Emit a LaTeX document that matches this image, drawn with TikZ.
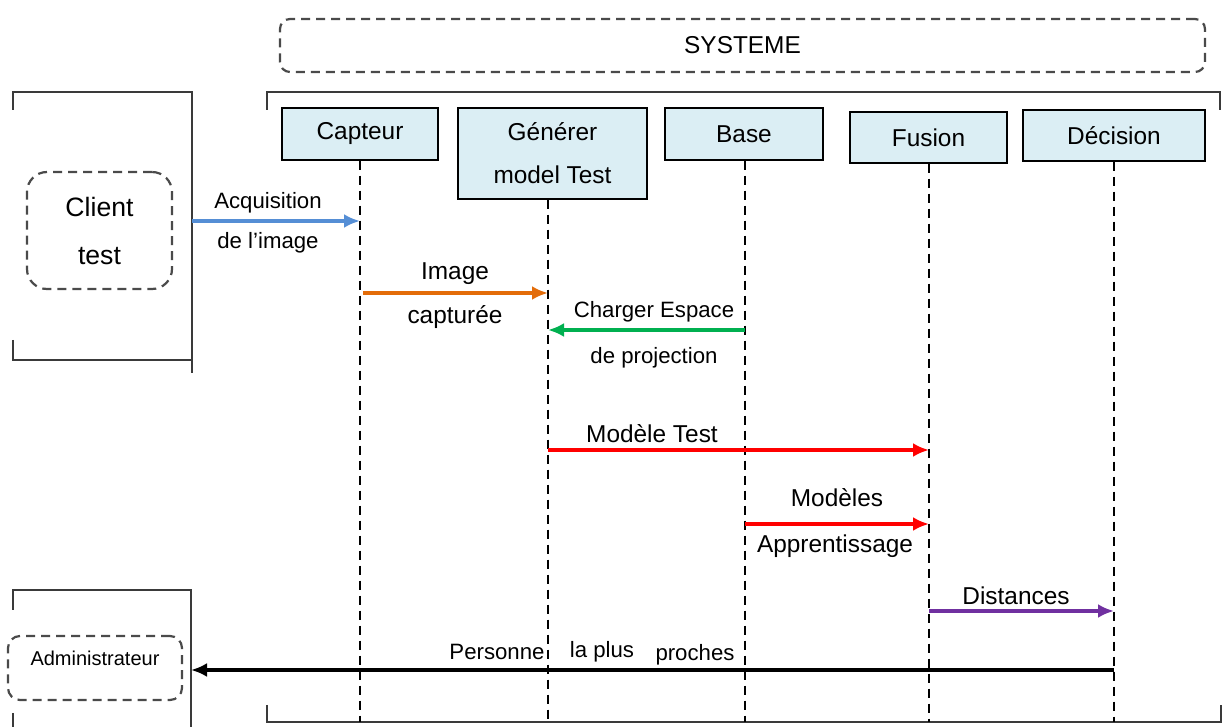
\documentclass[tikz,border=0pt]{standalone}
\usepackage{fontspec}
\setmainfont{Liberation Sans}
\usetikzlibrary{arrows.meta}
\definecolor{boxfill}{HTML}{DBEEF4}
\definecolor{frameg}{HTML}{3A3A3A}
\definecolor{dashg}{HTML}{4A4A4A}
\definecolor{cblue}{HTML}{558ED5}
\definecolor{corange}{HTML}{E36C09}
\definecolor{cgreen}{HTML}{00B050}
\definecolor{cred}{HTML}{FF0000}
\definecolor{cpurple}{HTML}{7030A0}
\tikzset{
  lifebox/.style={draw=black, fill=boxfill, line width=0.7pt, inner sep=0pt, align=center,
    font=\fontsize{12.2}{21.5}\selectfont},
  lifeline/.style={draw=black, line width=1pt, dash pattern=on 4.5pt off 3pt},
  framel/.style={draw=frameg, line width=0.9pt},
  actorbox/.style={draw=dashg, line width=1.1pt, dash pattern=on 4.5pt off 3pt, inner sep=0pt, align=center},
  lbl/.style={inner sep=0pt, text height=0.72em, text depth=0.2em, font=\fontsize{12.2}{14}\selectfont},
  slbl/.style={inner sep=0pt, text height=0.72em, text depth=0.2em, font=\fontsize{11.1}{13}\selectfont},
  msg/.style={line width=1.7pt, -{Latex[length=8pt,width=7pt]}},
}
\begin{document}
\begin{tikzpicture}[x=0.5pt,y=-0.5pt]
\useasboundingbox (0,0) rectangle (1223,727);
% SYSTEME
\node[actorbox, rounded corners=5pt, minimum width=462.5pt, minimum height=26.5pt,
  font=\fontsize{12.2}{14}\selectfont] (sys) at (742.5,45.5) {SYSTEME};
% system frame brackets
\draw[framel] (267,110) -- (267,92) -- (1220,92) -- (1220,110);
\draw[framel] (267,705) -- (267,722) -- (1221,722) -- (1221,705);
% client frame
\draw[framel] (13,110) -- (13,92) -- (192,92) -- (192,373);
\draw[framel] (13,340) -- (13,360) -- (192,360);
\node[actorbox, rounded corners=10pt, minimum width=72.5pt, minimum height=58.5pt,
  font=\fontsize{13.3}{24}\selectfont] (client) at (99.5,230.5) {Client\\test};
% admin frame
\draw[framel] (13,610) -- (13,590) -- (191,590) -- (191,727);
\draw[framel] (13,713) -- (13,727);
\node[actorbox, rounded corners=6pt, minimum width=87pt, minimum height=32pt,
  text height=0.72em, text depth=1.0em,
  font=\fontsize{10}{12}\selectfont] (admin) at (95,668) {Administrateur};
% lifeline boxes
\node[lifebox, minimum width=78pt, minimum height=26pt] (cap) at (360,134) {\raisebox{-1pt}{Capteur}};
\node[lifebox, minimum width=94.5pt, minimum height=45.5pt] (gen) at (552.5,153.5) {\raisebox{-1pt}{Générer}\\\raisebox{-1pt}{model Test}};
\node[lifebox, minimum width=79pt, minimum height=26pt] (base) at (744,134) {\raisebox{-1pt}{Base}};
\node[lifebox, minimum width=78.5pt, minimum height=25.5pt] (fus) at (928.5,137.5) {\raisebox{-1pt}{Fusion}};
\node[lifebox, minimum width=91pt, minimum height=25.5pt] (dec) at (1114,135.5) {\raisebox{-1pt}{Décision}};
% lifeline ends
\coordinate (capE) at (360,722);
\coordinate (genE) at (548,722);
\coordinate (baseE) at (745,722);
\coordinate (fusE) at (929,722);
\coordinate (decE) at (1114,722);
\draw[lifeline] (cap.south) -- (capE);
\draw[lifeline] (gen.south -| genE) -- (genE);
\draw[lifeline] (base.south -| baseE) -- (baseE);
\draw[lifeline] (fus.south -| fusE) -- (fusE);
\draw[lifeline] (dec.south) -- (decE);
% message anchor points
\coordinate (m1a) at (192,221);  \coordinate (m1b) at (360,221);
\coordinate (m2a) at (363,293);  \coordinate (m2b) at (548,293);
\coordinate (m3a) at (745,330);  \coordinate (m3b) at (548,330);
\coordinate (m4a) at (548,450);  \coordinate (m4b) at (929,450);
\coordinate (m5a) at (745,524);  \coordinate (m5b) at (929,524);
\coordinate (m6a) at (929,611);  \coordinate (m6b) at (1114,611);
\coordinate (m7a) at (1114,670); \coordinate (m7b) at (191,670);
% messages
\draw[msg, cblue] (m1a) -- (m1b);
\draw[msg, corange] (m2a) -- (m2b);
\draw[msg, cgreen] (m3a) -- (m3b);
\draw[msg, cred] (m4a) -- (m4b);
\draw[msg, cred] (m5a) -- (m5b);
\draw[msg, cpurple] (m6a) -- (m6b);
\draw[line width=2pt, black, -{Latex[length=8pt,width=7pt]}] (m7a) -- (m7b);
% labels
\node[slbl] (l1a) at (268,203) {Acquisition};
\node[slbl] (l1b) at (268,243) {de l’image};
\node[lbl] (l2a) at (455,274) {Image};
\node[lbl] (l2b) at (455,318) {capturée};
\node[slbl] (l3a) at (654,312) {Charger Espace};
\node[slbl] (l3b) at (654,358) {de projection};
\node[lbl] (l4) at (652,437) {Modèle Test};
\node[lbl] (l5a) at (837,501) {Modèles};
\node[lbl] (l5b) at (835,547) {Apprentissage};
\node[lbl] (l6) at (1016,599) {Distances};
\node[slbl] (l7a) at (497,654) {Personne};
\node[slbl] (l7b) at (602,652) {la plus};
\node[slbl] (l7c) at (695,655) {proches};
\end{tikzpicture}
\end{document}
